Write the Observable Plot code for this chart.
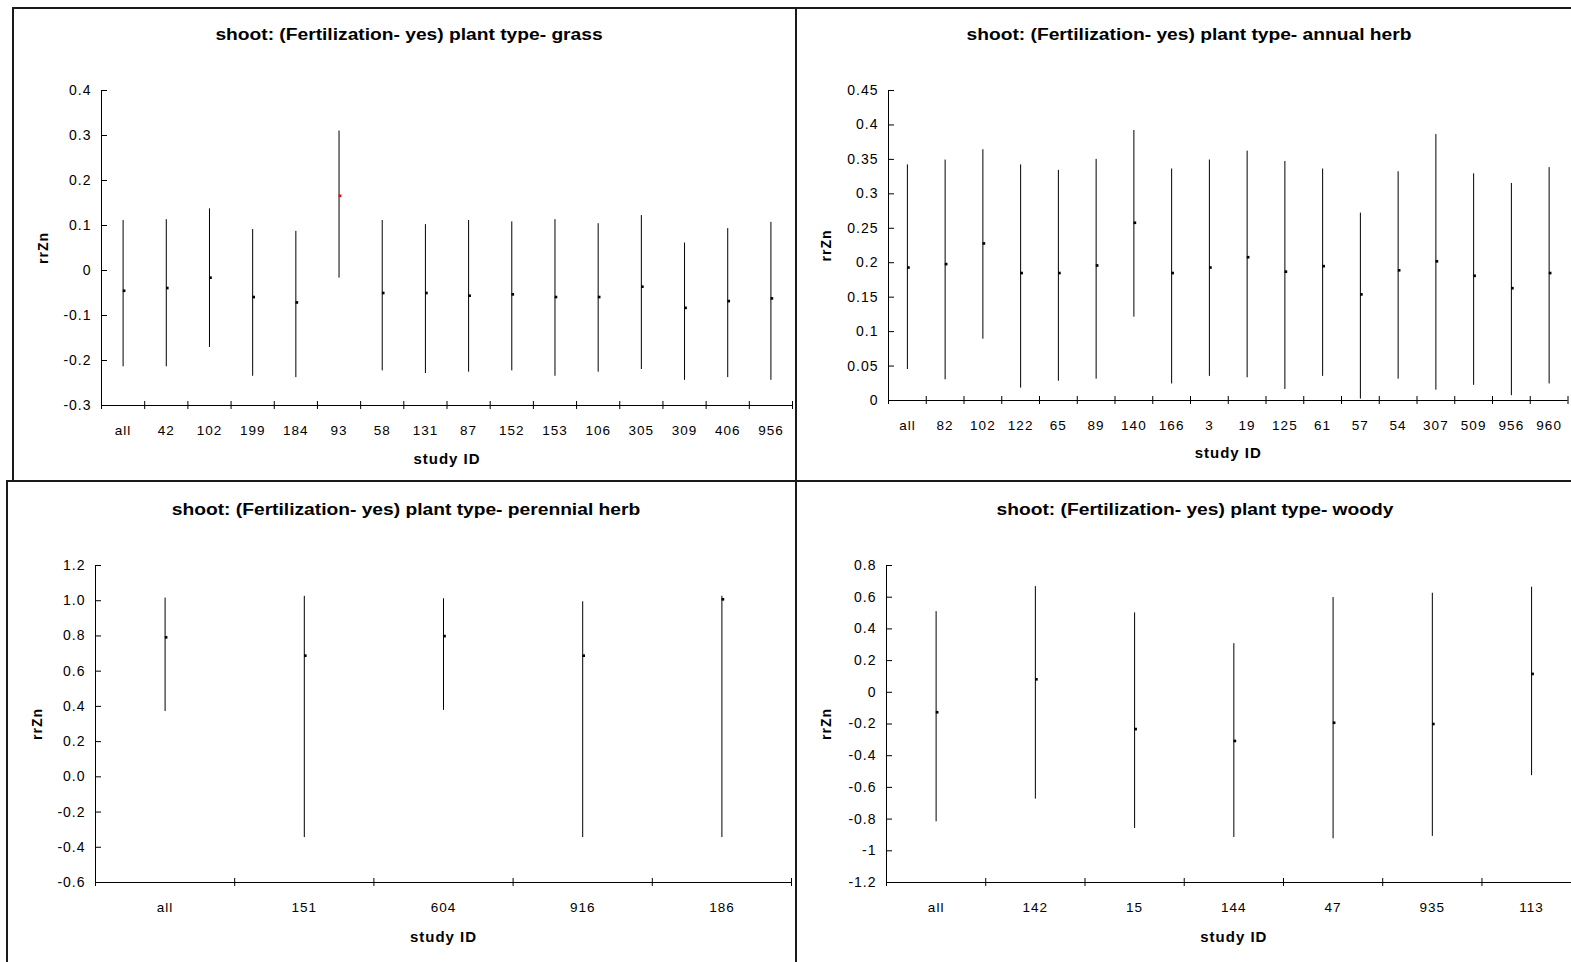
<!DOCTYPE html>
<html>
<head>
<meta charset="utf-8">
<script src="https://cdn.jsdelivr.net/npm/d3@7"></script>
<script src="https://cdn.jsdelivr.net/npm/@observablehq/plot@0.6"></script>
<style>
  html, body { margin: 0; padding: 0; background: #fff; overflow: hidden; }
  #page { position: relative; width: 1571px; height: 962px; overflow: hidden; background: #fff; font-family: "Liberation Sans", Arial, sans-serif; }
  .box { position: absolute; box-sizing: border-box; border: 2px solid #1a1a1a; }
  .title { position: absolute; white-space: nowrap; font-weight: bold; font-size: 16px; line-height: 16px; color: #000; transform: translateX(-50%) scaleX(1.2); }
  .chart { position: absolute; }
  .chart svg { max-width: none !important; display: block; }
</style>
</head>
<body>
<div id="page"></div>
<script>
// ---------- data ----------
const grassIds  = ["all","42","102","199","184","93","58","131","87","152","153","106","305","309","406","956"];
const grassMean = [-0.045,-0.039,-0.016,-0.059,-0.071,0.166,-0.050,-0.050,-0.056,-0.053,-0.059,-0.059,-0.036,-0.083,-0.068,-0.062];
const grassLow  = [-0.214,-0.214,-0.171,-0.235,-0.238,-0.017,-0.223,-0.229,-0.226,-0.223,-0.235,-0.226,-0.220,-0.244,-0.238,-0.244];
const grassHigh = [0.111,0.113,0.137,0.091,0.087,0.310,0.111,0.102,0.111,0.108,0.113,0.104,0.122,0.061,0.093,0.107];
const grassTicks = [-0.3,-0.2,-0.1,0,0.1,0.2,0.3,0.4];
const grassTickLabels = ["-0.3","-0.2","-0.1","0","0.1","0.2","0.3","0.4"];
const grassHighlight = "93";

const annualIds  = ["all","82","102","122","65","89","140","166","3","19","125","61","57","54","307","509","956","960"];
const annualMean = [0.193,0.198,0.228,0.185,0.185,0.196,0.258,0.185,0.193,0.208,0.187,0.195,0.154,0.189,0.202,0.181,0.163,0.185];
const annualLow  = [0.045,0.030,0.089,0.018,0.028,0.031,0.121,0.024,0.035,0.033,0.016,0.035,0.002,0.031,0.015,0.022,0.007,0.024];
const annualHigh = [0.342,0.349,0.364,0.342,0.334,0.350,0.392,0.336,0.349,0.362,0.347,0.336,0.272,0.332,0.386,0.329,0.315,0.338];
const annualTicks = [0,0.05,0.1,0.15,0.2,0.25,0.3,0.35,0.4,0.45];
const annualTickLabels = ["0","0.05","0.1","0.15","0.2","0.25","0.3","0.35","0.4","0.45"];

const perennialIds  = ["all","151","604","916","186"];
const perennialMean = [0.792,0.688,0.799,0.688,1.008];
const perennialLow  = [0.371,-0.345,0.377,-0.345,-0.345];
const perennialHigh = [1.015,1.025,1.011,0.994,1.025];
const perennialTicks = [-0.6,-0.4,-0.2,0,0.2,0.4,0.6,0.8,1.0,1.2];
const perennialTickLabels = ["-0.6","-0.4","-0.2","0.0","0.2","0.4","0.6","0.8","1.0","1.2"];

const woodyIds  = ["all","142","15","144","47","935","113"];
const woodyMean = [-0.126,0.082,-0.232,-0.307,-0.192,-0.200,0.116];
const woodyLow  = [-0.817,-0.674,-0.859,-0.916,-0.924,-0.909,-0.526];
const woodyHigh = [0.509,0.667,0.501,0.307,0.598,0.625,0.663];
const woodyTicks = [-1.2,-1,-0.8,-0.6,-0.4,-0.2,0,0.2,0.4,0.6,0.8];
const woodyTickLabels = ["-1.2","-1","-0.8","-0.6","-0.4","-0.2","0","0.2","0.4","0.6","0.8"];

const titles = [
  "shoot: (Fertilization- yes) plant type- grass",
  "shoot: (Fertilization- yes) plant type- annual herb",
  "shoot: (Fertilization- yes) plant type- perennial herb",
  "shoot: (Fertilization- yes) plant type- woody"
];
const xLabel = "study ID";
const yLabel = "rrZn";

// ---------- drawing ----------
const FONT = "Liberation Sans, Arial, sans-serif";

function panel(cfg) {
  const {ids, mean, low, high, ticks, tickLabels, highlight} = cfg;
  const n = ids.length;
  const rows = ids.map((id, i) => ({id, i, mean: mean[i], low: low[i], high: high[i]}));
  const yDomain = [ticks[0], ticks[ticks.length - 1]];
  const svg = Plot.plot({
    width: cfg.width, height: cfg.height,
    marginLeft: cfg.mL, marginRight: cfg.mR, marginTop: cfg.mT, marginBottom: cfg.mB,
    x: {domain: [0, n]},
    y: {domain: yDomain},
    style: {fontFamily: FONT, fontSize: "13px", letterSpacing: "1px", color: "#000", background: "transparent", overflow: "visible"},
    marks: [
      Plot.ruleX([0], {stroke: "#000"}),
      Plot.ruleY([yDomain[0]], {stroke: "#000"}),
      Plot.axisY({ticks, tickSize: 6, dx: 6, text: null, label: null, stroke: "#000", strokeOpacity: 1}),
      Plot.axisY({ticks, tickSize: 0, tickPadding: 10, label: null, fill: "#000", fontSize: 14, fontFamily: FONT,
        tickFormat: d => tickLabels[ticks.indexOf(d)]}),
      Plot.axisX({ticks: d3.range(n + 1), tickSize: 8, dy: -4, text: null, label: null, stroke: "#000", strokeOpacity: 1}),
      Plot.axisX({ticks: rows.map(r => r.i + 0.5), tickSize: 0, tickPadding: 20, label: null, fill: "#000", fontSize: 13.5, fontFamily: FONT,
        tickFormat: d => ids[Math.floor(d)]}),
      Plot.ruleX(rows, {x: d => d.i + 0.5, y1: "low", y2: "high", stroke: "#000", strokeWidth: 1}),
      Plot.dot(rows.filter(r => r.id !== highlight), {x: d => d.i + 0.5, y: "mean", symbol: "square", r: 1.5, fill: "#000", stroke: null, dx: 1}),
      Plot.dot(rows.filter(r => r.id === highlight), {x: d => d.i + 0.5, y: "mean", symbol: "square", r: 1.5, fill: "#ff0000", stroke: null, dx: 1}),
      Plot.text([xLabel], {frameAnchor: "bottom", dy: cfg.xLabDy, textAnchor: "middle", lineAnchor: "middle", fontWeight: "bold", fontSize: 15, fontFamily: FONT, fill: "#000"}),
      Plot.text([yLabel], {frameAnchor: "left", dx: cfg.yLabDx, rotate: -90, textAnchor: "middle", lineAnchor: "middle", fontWeight: "bold", fontSize: 14, fontFamily: FONT, fill: "#000"})
    ]
  });
  svg.style.maxWidth = "none";
  svg.setAttribute("font-family", FONT);
  svg.setAttribute("font-size", "13");
  return svg;
}

const page = document.getElementById("page");

function addBox(l, t, w, h) {
  const b = document.createElement("div");
  b.className = "box";
  Object.assign(b.style, {left: l + "px", top: t + "px", width: w + "px", height: h + "px"});
  page.appendChild(b);
}
addBox(12, 7, 785, 475);
addBox(795, 7, 800, 475);
addBox(6, 480, 791, 500);
addBox(795, 480, 800, 500);

function addTitle(text, cx, top) {
  const d = document.createElement("div");
  d.className = "title";
  d.textContent = text;
  d.style.left = cx + "px";
  d.style.top = top + "px";
  page.appendChild(d);
}

function addChart(svg, left, top, width, height) {
  const w = document.createElement("div");
  w.className = "chart";
  w.style.left = left + "px";
  w.style.top = top + "px";
  w.style.width = width + "px";
  w.style.height = height + "px";
  w.appendChild(svg);
  page.appendChild(w);
}

const cTL = {ids: grassIds, mean: grassMean, low: grassLow, high: grassHigh, ticks: grassTicks, tickLabels: grassTickLabels,
  highlight: grassHighlight, width: 782, height: 472, mL: 88, mR: 3, mT: 82, mB: 75, xLabDy: 54, yLabDx: -58};
const cTR = {ids: annualIds, mean: annualMean, low: annualLow, high: annualHigh, ticks: annualTicks, tickLabels: annualTickLabels,
  highlight: null, width: 787, height: 472, mL: 92, mR: 15.5, mT: 82, mB: 80, xLabDy: 53, yLabDx: -62};
const cBL = {ids: perennialIds, mean: perennialMean, low: perennialLow, high: perennialHigh, ticks: perennialTicks, tickLabels: perennialTickLabels,
  highlight: null, width: 788, height: 480, mL: 88, mR: 4, mT: 83, mB: 80, xLabDy: 55, yLabDx: -58};
const cBR = {ids: woodyIds, mean: woodyMean, low: woodyLow, high: woodyHigh, ticks: woodyTicks, tickLabels: woodyTickLabels,
  highlight: null, width: 800, height: 480, mL: 90, mR: 15.3, mT: 83, mB: 80, xLabDy: 55, yLabDx: -60};

addChart(panel(cTL), 13, 8, cTL.width, cTL.height);
addChart(panel(cTR), 796, 8, cTR.width, cTR.height);
addChart(panel(cBL), 7, 482, cBL.width, cBL.height);
addChart(panel(cBR), 796, 482, cBR.width, cBR.height);

addTitle(titles[0], 409, 27);
addTitle(titles[1], 1189, 27);
addTitle(titles[2], 406, 502);
addTitle(titles[3], 1195, 502);
</script>
</body>
</html>
